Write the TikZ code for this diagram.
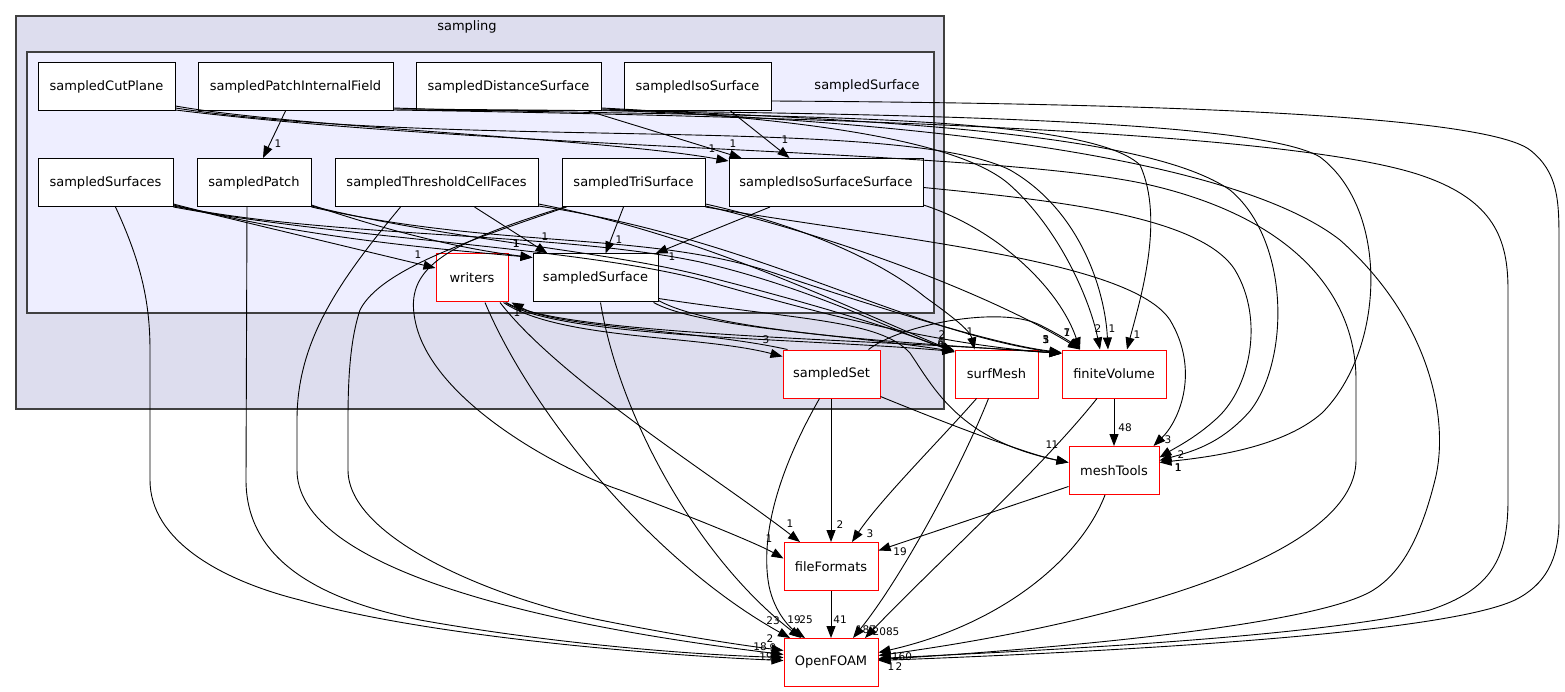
\documentclass[tikz,border=0pt]{standalone}
\usepackage{fontspec}
\setmainfont{DejaVu Sans}
\usetikzlibrary{arrows.meta}
\definecolor{outerfill}{HTML}{DDDDEE}
\definecolor{innerfill}{HTML}{EEEEFF}
\definecolor{clusterline}{HTML}{404040}
\begin{document}
\begin{tikzpicture}[x=1pt,y=-1pt,
  dirbox/.style={draw=black, fill=white, line width=1pt, minimum height=48pt, inner sep=0pt, font=\fontsize{13}{15}\selectfont},
  redbox/.style={dirbox, draw=red, line width=1pt},
  dep/.style={draw=black, line width=0.9pt, -{Triangle[length=12pt,width=9pt]}},
  elabel/.style={inner sep=0pt, font=\fontsize{10.5}{12}\selectfont},
  clabel/.style={inner sep=0pt, font=\fontsize{13}{15}\selectfont},
  cluster/.style={draw=clusterline, line width=1.2pt}
]
\useasboundingbox (0,0) rectangle (1565,692);
\fill[white] (0,0) rectangle (1565,692);
% clusters
\draw[cluster, fill=outerfill] (16,16) rectangle (944,409);
\node[clabel] (lsampling) at (467,27) {sampling};
\draw[cluster, fill=innerfill] (27,52) rectangle (934,313);
\node[clabel] (lsampledSurface) at (867,86) {sampledSurface};

% nodes
\node[dirbox, minimum width=137pt] (cutP) at (106.5,86.5) {sampledCutPlane};
\node[dirbox, minimum width=195pt] (pif) at (295.5,86.5) {sampledPatchInternalField};
\node[dirbox, minimum width=185pt] (dist) at (508.5,86.5) {sampledDistanceSurface};
\node[dirbox, minimum width=147pt] (iso) at (697.5,86.5) {sampledIsoSurface};
\node[dirbox, minimum width=135pt] (surfs) at (105.5,182.5) {sampledSurfaces};
\node[dirbox, minimum width=114pt] (patch) at (254,182.5) {sampledPatch};
\node[dirbox, minimum width=203pt] (thr) at (436.5,182.5) {sampledThresholdCellFaces};
\node[dirbox, minimum width=143pt] (tri) at (633.5,182.5) {sampledTriSurface};
\node[dirbox, minimum width=194pt] (isoSS) at (826,182.5) {sampledIsoSurfaceSurface};
\node[redbox, minimum width=72pt] (writers) at (472,278) {writers};
\node[dirbox, minimum width=125pt] (sSurf) at (595.5,278) {sampledSurface};
\node[redbox, minimum width=97pt] (sSet) at (831.5,374) {sampledSet};
\node[redbox, minimum width=83pt] (surfMesh) at (996.5,374) {surfMesh};
\node[redbox, minimum width=104pt] (fV) at (1114,374) {finiteVolume};
\node[redbox, minimum width=90pt] (mT) at (1114,470.5) {meshTools};
\node[redbox, minimum width=94pt] (fF) at (831,566.5) {fileFormats};
\node[redbox, minimum width=94pt] (OF) at (831,662.5) {OpenFOAM};

% edges inside sampledSurface
\draw[dep] ([xshift=-10pt]pif.south) -- ([xshift=9pt]patch.north);
\draw[dep] ([yshift=5pt]cutP.south east) .. controls (300,128) and (600,138) .. ([yshift=-3pt]isoSS.north west);
\draw[dep] ([xshift=-13pt]dist.south east) -- ([xshift=13pt]isoSS.north west);
\draw[dep] ([xshift=-41pt]iso.south east) -- ([xshift=61pt]isoSS.north west);
\draw[dep] ([xshift=-56pt]isoSS.south) -- ([xshift=-3pt]sSurf.north east);
\draw[dep] ([xshift=-10pt]tri.south) -- ([xshift=10pt]sSurf.north);
\draw[dep] ([xshift=38pt]thr.south) -- ([xshift=-48pt]sSurf.north);
\draw[dep] ([yshift=2pt]patch.south east) .. controls (400,235) and (470,250) .. ([yshift=-4pt]sSurf.north west);
\draw[dep] ([yshift=3pt]surfs.south east) .. controls (300,238) and (450,250) .. ([yshift=-4pt]sSurf.north west);
\draw[dep] ([yshift=2pt]surfs.south east) -- ([yshift=10pt]writers.west);

% top row long edges
\draw[dep] ([yshift=3pt]cutP.south east) .. controls (450,150) and (900,115) .. (1010,170) .. controls (1080,210) and (1105,290) .. ([xshift=-6pt]fV.north);
\draw[dep] ([yshift=1pt]cutP.south east) .. controls (500,150) and (1000,150) .. (1150,185) .. controls (1300,220) and (1356,300) .. (1356,380) -- (1356,460) .. controls (1356,560) and (1100,625) .. ([yshift=7pt]OF.east);
\draw[dep] ([yshift=3pt]pif.south east) .. controls (700,118) and (1080,108) .. (1140,165) .. controls (1165,220) and (1140,300) .. ([xshift=13pt]fV.north);
\draw[dep] ([yshift=2pt]pif.south east) .. controls (800,112) and (1250,115) .. (1320,157) .. controls (1390,210) and (1385,350) .. (1322,413) .. controls (1280,450) and (1200,458) .. ([yshift=8pt]mT.east);
\draw[dep] ([yshift=1pt]pif.south east) .. controls (900,118) and (1300,135) .. (1420,175) .. controls (1495,200) and (1508,240) .. (1508,290) -- (1508,500) .. controls (1508,560) and (1490,590) .. (1430,610) .. controls (1300,640) and (1000,652) .. ([yshift=4pt]OF.east);
\draw[dep] ([yshift=3pt]dist.south east) .. controls (800,118) and (960,140) .. (1010,185) .. controls (1060,230) and (1090,300) .. ([xshift=-14pt]fV.north);
\draw[dep] ([yshift=2pt]dist.south east) .. controls (900,120) and (1150,135) .. (1230,190) .. controls (1290,240) and (1290,360) .. (1250,411) .. controls (1220,445) and (1190,452) .. ([yshift=10pt]mT.east);
\draw[dep] ([yshift=1pt]dist.south east) .. controls (1000,125) and (1250,170) .. (1340,240) .. controls (1430,320) and (1450,420) .. (1435,480) .. controls (1420,540) and (1400,575) .. (1370,592) .. controls (1300,630) and (1000,652) .. ([yshift=3pt]OF.east);
\draw[dep] ([yshift=10pt]iso.south east) .. controls (1100,103) and (1480,112) .. (1530,150) .. controls (1558,172) and (1559,200) .. (1559,240) -- (1559,520) .. controls (1559,560) and (1545,585) .. (1515,600) .. controls (1440,635) and (1100,652) .. ([yshift=2pt]OF.east);

% second row long edges
\draw[dep] ([yshift=-5pt]isoSS.east) .. controls (1050,200) and (1200,215) .. (1235,270) .. controls (1265,320) and (1250,390) .. (1215,420) .. controls (1195,438) and (1175,448) .. ([yshift=13pt]mT.east);
\draw[dep] ([yshift=2pt]isoSS.south east) .. controls (1000,230) and (1060,290) .. ([xshift=-34pt]fV.north);
\draw[dep] ([yshift=3pt]tri.south east) .. controls (800,225) and (880,260) .. (925,297) .. controls (950,315) and (970,330) .. ([xshift=-22pt]surfMesh.north);
\draw[dep] ([yshift=1pt]tri.south east) .. controls (850,240) and (1000,300) .. ([xshift=-34pt]fV.north);
\draw[dep] (tri.south east) .. controls (900,240) and (1130,260) .. (1170,320) .. controls (1200,370) and (1180,420) .. ([xshift=-6pt]mT.north east);
\draw[dep] ([xshift=3pt]tri.south west) .. controls (440,245) and (405,270) .. (415,320) .. controls (430,400) and (560,470) .. (620,490) .. controls (700,520) and (760,545) .. ([yshift=8pt]fF.west);
\draw[dep] ([xshift=5pt]tri.south west) .. controls (470,240) and (380,270) .. (360,310) .. controls (350,340) and (348,380) .. (348,420) -- (348,470) .. controls (348,540) and (500,600) .. (600,620) .. controls (680,636) and (740,645) .. ([yshift=12pt]OF.west);
\draw[dep] ([xshift=-36pt]thr.south) .. controls (340,280) and (297,340) .. (297,420) -- (297,470) .. controls (297,560) and (500,620) .. ([yshift=8pt]OF.west);
\draw[dep] ([yshift=3pt]thr.south east) .. controls (700,235) and (830,300) .. ([yshift=-2pt]surfMesh.north west);
\draw[dep] ([yshift=1pt]thr.south east) .. controls (760,240) and (900,330) .. ([yshift=-4pt]fV.north west);
\draw[dep] ([xshift=10pt]surfs.south) .. controls (140,260) and (150,300) .. (150,350) -- (150,480) .. controls (150,540) and (220,580) .. (300,600) .. controls (420,635) and (650,655) .. ([yshift=2pt]OF.west);
\draw[dep] ([yshift=1pt]surfs.south east) .. controls (330,238) and (560,232) .. (700,262) .. controls (820,290) and (900,335) .. ([yshift=-1pt]surfMesh.north west);
\draw[dep] (surfs.south east) .. controls (350,240) and (600,248) .. (720,285) .. controls (850,322) and (950,345) .. ([yshift=-4pt]fV.north west);
\draw[dep] ([xshift=-7pt]patch.south) -- (246,480) .. controls (246,560) and (320,600) .. (420,620) .. controls (560,645) and (700,655) .. ([yshift=5pt]OF.west);
\draw[dep] ([yshift=1pt]patch.south east) .. controls (450,240) and (600,250) .. (700,275) .. controls (800,300) and (900,330) .. ([yshift=-3pt]surfMesh.north west);
\draw[dep] (patch.south east) .. controls (500,250) and (650,230) .. (780,275) .. controls (900,315) and (1000,345) .. ([yshift=-3pt]fV.north west);

% third row
\draw[dep] ([xshift=5pt]sSurf.south) .. controls (620,420) and (700,560) .. ([xshift=-30pt]OF.north);
\draw[dep] ([xshift=-5pt]sSurf.south east) .. controls (700,328) and (850,335) .. ([yshift=-2pt]surfMesh.north west);
\draw[dep] ([yshift=2pt]sSurf.south east) .. controls (720,335) and (950,345) .. ([yshift=-4pt]fV.north west);
\draw[dep] ([yshift=4pt]sSurf.south east) .. controls (800,320) and (880,320) .. (910,353) .. controls (935,390) and (960,440) .. ([yshift=8pt]mT.west);
\draw[dep] ([xshift=13pt]writers.south) .. controls (530,410) and (650,560) .. ([xshift=-41pt]OF.north);
\draw[dep] ([xshift=28pt]writers.south) .. controls (560,380) and (720,480) .. ([xshift=-31pt]fF.north);
\draw[dep] ([xshift=-5pt]writers.south east) .. controls (560,340) and (700,335) .. ([yshift=-7pt]sSet.north west);
\draw[dep] ([xshift=-3pt]writers.south east) .. controls (560,338) and (800,338) .. ([yshift=-2pt]surfMesh.north west);
\draw[dep] ([xshift=-2pt]writers.south east) .. controls (560,336) and (900,340) .. ([yshift=-4pt]fV.north west);

% lower part
\draw[dep] ([xshift=5pt]sSet.north west) .. controls (700,330) and (560,328) .. ([xshift=3pt]writers.south east);
\draw[dep] ([xshift=-12pt]sSet.north east) .. controls (900,325) and (1000,305) .. (1040,325) .. controls (1060,335) and (1072,343) .. ([xshift=-34pt]fV.north);
\draw[dep] ([yshift=2pt]sSet.south east) .. controls (950,425) and (1030,455) .. ([yshift=8pt]mT.west);
\draw[dep] ([xshift=-0.5pt]sSet.south) -- (fF.north);
\draw[dep] ([xshift=-12pt]sSet.south) .. controls (790,450) and (760,520) .. (768,580) .. controls (772,610) and (790,628) .. ([xshift=-26pt]OF.north);
\draw[dep] ([xshift=-20pt]surfMesh.south) .. controls (940,440) and (880,500) .. ([xshift=21pt]fF.north);
\draw[dep] ([xshift=-8pt]surfMesh.south) .. controls (960,470) and (900,580) .. ([xshift=22pt]OF.north);
\draw[dep] (fV.south) -- (mT.north);
\draw[dep] ([xshift=-17pt]fV.south) .. controls (1040,470) and (940,560) .. ([xshift=34pt]OF.north);
\draw[dep] ([yshift=-16pt]mT.west) -- ([yshift=16pt]fF.east);
\draw[dep] ([xshift=-9pt]mT.south) .. controls (1080,560) and (1000,625) .. ([yshift=10pt]OF.east);
\draw[dep] (fF.south) -- (OF.north);

% edge labels
\node[elabel] (l01) at (278,144) {1};
\node[elabel] (l02) at (712,149) {1};
\node[elabel] (l03) at (733,144) {1};
\node[elabel] (l04) at (785,140) {1};
\node[elabel] (l05) at (672,257) {1};
\node[elabel] (l06) at (619,240) {1};
\node[elabel] (l07) at (545,237) {1};
\node[elabel] (l08) at (516,244) {1};
\node[elabel] (l09) at (516.5,244) {1};
\node[elabel] (l10) at (418,255) {1};
\node[elabel] (l11) at (942,335) {2};
\node[elabel] (l12) at (941,343) {6};
\node[elabel] (l13) at (941,343) {4};
\node[elabel] (l14) at (1046,340) {5};
\node[elabel] (l15) at (1046,340) {3};
\node[elabel] (l16) at (1046,340) {1};
\node[elabel] (l17) at (1067,333) {1};
\node[elabel] (l18) at (1067,333) {7};
\node[elabel] (l19) at (1098,329) {2};
\node[elabel] (l20) at (1112,329) {1};
\node[elabel] (l21) at (1137,335) {1};
\node[elabel] (l22) at (970,332) {1};
\node[elabel] (l23) at (766,340) {3};
\node[elabel] (l24) at (517,313) {1};
\node[elabel] (l25) at (1049,445) {1};
\node[elabel] (l26) at (1055,445) {1};
\node[elabel] (l27) at (1125,428) {48};
\node[elabel] (l28) at (1168,440) {3};
\node[elabel] (l29) at (1181,455) {2};
\node[elabel] (l30) at (1178,468) {1};
\node[elabel] (l31) at (1178.5,468) {1};
\node[elabel] (l32) at (790,524) {1};
\node[elabel] (l33) at (840,525) {2};
\node[elabel] (l34) at (870,534) {3};
\node[elabel] (l35) at (769,539) {1};
\node[elabel] (l36) at (900,552) {19};
\node[elabel] (l37) at (773,621) {23};
\node[elabel] (l38) at (794,620) {19};
\node[elabel] (l39) at (806,620) {25};
\node[elabel] (l40) at (840,620) {41};
\node[elabel] (l41) at (866,630) {187};
\node[elabel] (l42) at (886,632) {2085};
\node[elabel] (l43) at (770,639) {2};
\node[elabel] (l44) at (773,648) {9};
\node[elabel] (l45) at (760,647) {18};
\node[elabel] (l46) at (766,657) {19};
\node[elabel] (l47) at (902,657) {160};
\node[elabel] (l48) at (891,667) {1};
\node[elabel] (l49) at (899,667) {2};
\end{tikzpicture}
\end{document}
